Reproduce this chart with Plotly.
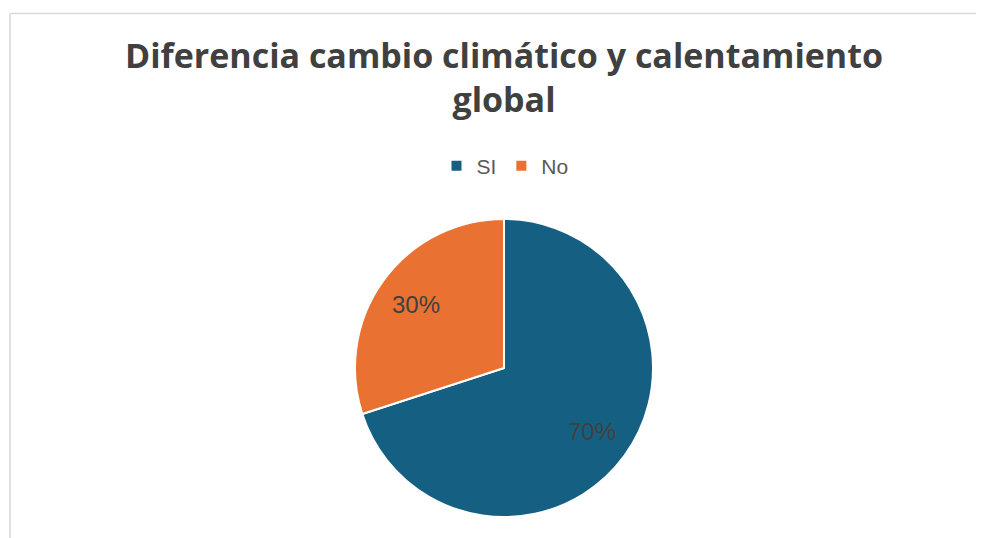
import plotly.graph_objects as go

labels = ["SI", "No"]
values = [70, 30]
colors = ["#156082", "#E97132"]
title_text = "Diferencia cambio climático y calentamiento<br>global"

# page is rendered with an 8px body margin: subtract it from target positions
OFF = 8
W, H = 984, 538
cx, cy, r = 504 - OFF, 368 - OFF, 149
hole = 0.46  # places the percentage labels at ~73% of the radius, as in the reference


def dom(rad):
    return dict(x=[(cx - rad) / W, (cx + rad) / W], y=[(H - cy - rad) / H, (H - cy + rad) / H])


# the visible pie
base = go.Pie(
    labels=labels, values=values, sort=False, direction="clockwise", rotation=0,
    marker=dict(colors=colors, line=dict(color="white", width=2)),
    textinfo="none", domain=dom(r), hoverinfo="label+percent", showlegend=True,
)
# transparent ring on top, only carrying the percentage labels
ring = go.Pie(
    labels=labels, values=values, sort=False, direction="clockwise", rotation=0,
    hole=hole,
    marker=dict(colors=["rgba(0,0,0,0)"] * len(values), line=dict(width=0)),
    texttemplate="%{percent:.0%}", textposition="inside", insidetextorientation="horizontal",
    textfont=dict(color="#404040", size=24, family="Liberation Sans"),
    domain=dom(r), hoverinfo="skip", showlegend=False,
)

fig = go.Figure([base, ring])

fig.update_layout(
    width=W, height=H,
    margin=dict(l=0, r=0, t=0, b=0),
    paper_bgcolor="white",
    title=dict(text=title_text, x=(504 - OFF) / W, xanchor="center", y=1 - 60 / H, yanchor="top",
               font=dict(family="Open Sans", size=34, color="#404040", weight="bold")),
    legend=dict(orientation="h", x=(505 - OFF) / W, xanchor="center", y=1 - (166 - OFF) / H, yanchor="middle",
                font=dict(family="Liberation Sans", size=21, color="#595959"),
                itemwidth=30, traceorder="normal"),
    shapes=[
        dict(type="line", xref="paper", yref="paper", x0=(10 - OFF) / W, x1=1,
             y0=1 - (13.5 - OFF) / H, y1=1 - (13.5 - OFF) / H,
             line=dict(color="#D9D9D9", width=1.5)),
        dict(type="line", xref="paper", yref="paper", x0=(10 - OFF) / W, x1=(10 - OFF) / W,
             y0=0, y1=1 - (13.5 - OFF) / H,
             line=dict(color="#D9D9D9", width=1.5)),
    ],
)

fig.write_html("out.html")
